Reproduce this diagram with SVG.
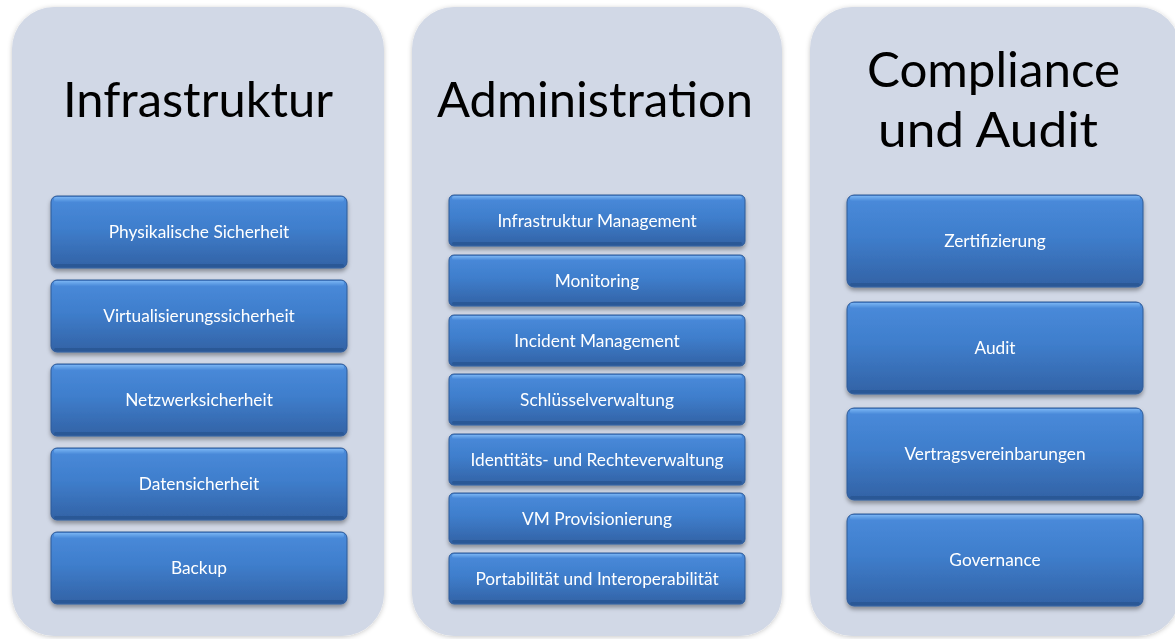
<svg xmlns="http://www.w3.org/2000/svg" width="1175" height="639" viewBox="0 0 1175 639">
  <style>
    .panel { fill: #D1D8E6; }
    .title { font-family: Lato, "Open Sans", "Liberation Sans", sans-serif; font-size: 49px; fill: #000000; }
    .label { font-family: Lato, "Open Sans", "Liberation Sans", sans-serif; font-size: 17.3px; fill: #FFFFFF; text-anchor: middle; }
    .box { fill: url(#boxFill); stroke: #2E5A97; stroke-width: 1; }
    .bevelTop { fill: url(#bevelTop); }
    .bevelBottom { fill: #2A5590; opacity: 0.75; }
  </style>
  <defs>
    <linearGradient id="boxFill" x1="0" y1="0" x2="0" y2="1">
      <stop offset="0" stop-color="#4A8BDB"/>
      <stop offset="0.45" stop-color="#3F7ECC"/>
      <stop offset="1" stop-color="#3262A5"/>
    </linearGradient>
    <linearGradient id="bevelTop" x1="0" y1="0" x2="0" y2="1">
      <stop offset="0" stop-color="#78B3F2"/>
      <stop offset="1" stop-color="#4B8BDA"/>
    </linearGradient>
    <filter id="panelShadow" x="-5%" y="-5%" width="110%" height="110%">
      <feGaussianBlur in="SourceAlpha" stdDeviation="2.5"/>
      <feOffset dx="0" dy="1" result="blur"/>
      <feFlood flood-color="#000000" flood-opacity="0.22"/>
      <feComposite in2="blur" operator="in"/>
      <feMerge><feMergeNode/><feMergeNode in="SourceGraphic"/></feMerge>
    </filter>
    <filter id="boxShadow" x="-5%" y="-20%" width="110%" height="150%">
      <feGaussianBlur in="SourceAlpha" stdDeviation="2"/>
      <feOffset dx="0" dy="3" result="blur"/>
      <feFlood flood-color="#000000" flood-opacity="0.35"/>
      <feComposite in2="blur" operator="in"/>
      <feMerge><feMergeNode/><feMergeNode in="SourceGraphic"/></feMerge>
    </filter>
  </defs>

  <rect width="1175" height="639" fill="#FFFFFF"/>

  <!-- Column 1: Infrastruktur -->
  <g id="infrastruktur">
    <rect class="panel" x="12" y="7" width="372" height="629" rx="42" filter="url(#panelShadow)"/>
    <text class="title" x="63" y="117" textLength="270" lengthAdjust="spacingAndGlyphs">Infrastruktur</text>

    <g id="physikalische-sicherheit" filter="url(#boxShadow)">
      <rect class="box" x="51" y="196" width="296" height="72" rx="6"/>
      <rect class="bevelTop" x="54" y="197" width="290" height="5" rx="2"/>
      <rect class="bevelBottom" x="54" y="264" width="290" height="3" rx="1.5"/>
      <text class="label" x="199" y="238">Physikalische Sicherheit</text>
    </g>
    <g id="virtualisierungssicherheit" filter="url(#boxShadow)">
      <rect class="box" x="51" y="280" width="296" height="72" rx="6"/>
      <rect class="bevelTop" x="54" y="281" width="290" height="5" rx="2"/>
      <rect class="bevelBottom" x="54" y="348" width="290" height="3" rx="1.5"/>
      <text class="label" x="199" y="322">Virtualisierungssicherheit</text>
    </g>
    <g id="netzwerksicherheit" filter="url(#boxShadow)">
      <rect class="box" x="51" y="364" width="296" height="72" rx="6"/>
      <rect class="bevelTop" x="54" y="365" width="290" height="5" rx="2"/>
      <rect class="bevelBottom" x="54" y="432" width="290" height="3" rx="1.5"/>
      <text class="label" x="199" y="406">Netzwerksicherheit</text>
    </g>
    <g id="datensicherheit" filter="url(#boxShadow)">
      <rect class="box" x="51" y="448" width="296" height="72" rx="6"/>
      <rect class="bevelTop" x="54" y="449" width="290" height="5" rx="2"/>
      <rect class="bevelBottom" x="54" y="516" width="290" height="3" rx="1.5"/>
      <text class="label" x="199" y="490">Datensicherheit</text>
    </g>
    <g id="backup" filter="url(#boxShadow)">
      <rect class="box" x="51" y="532" width="296" height="72" rx="6"/>
      <rect class="bevelTop" x="54" y="533" width="290" height="5" rx="2"/>
      <rect class="bevelBottom" x="54" y="600" width="290" height="3" rx="1.5"/>
      <text class="label" x="199" y="574">Backup</text>
    </g>
  </g>

  <!-- Column 2: Administration -->
  <g id="administration">
    <rect class="panel" x="412" y="7" width="370" height="629" rx="42" filter="url(#panelShadow)"/>
    <text class="title" x="437" y="117" textLength="316" lengthAdjust="spacingAndGlyphs">Administration</text>

    <g id="infrastruktur-management" filter="url(#boxShadow)">
      <rect class="box" x="449" y="195" width="296" height="51" rx="5"/>
      <rect class="bevelTop" x="452" y="196" width="290" height="4" rx="2"/>
      <rect class="bevelBottom" x="452" y="242" width="290" height="3" rx="1.5"/>
      <text class="label" x="597" y="227">Infrastruktur Management</text>
    </g>
    <g id="monitoring" filter="url(#boxShadow)">
      <rect class="box" x="449" y="255" width="296" height="51" rx="5"/>
      <rect class="bevelTop" x="452" y="256" width="290" height="4" rx="2"/>
      <rect class="bevelBottom" x="452" y="302" width="290" height="3" rx="1.5"/>
      <text class="label" x="597" y="287">Monitoring</text>
    </g>
    <g id="incident-management" filter="url(#boxShadow)">
      <rect class="box" x="449" y="315" width="296" height="51" rx="5"/>
      <rect class="bevelTop" x="452" y="316" width="290" height="4" rx="2"/>
      <rect class="bevelBottom" x="452" y="362" width="290" height="3" rx="1.5"/>
      <text class="label" x="597" y="347">Incident Management</text>
    </g>
    <g id="schluesselverwaltung" filter="url(#boxShadow)">
      <rect class="box" x="449" y="374" width="296" height="51" rx="5"/>
      <rect class="bevelTop" x="452" y="375" width="290" height="4" rx="2"/>
      <rect class="bevelBottom" x="452" y="421" width="290" height="3" rx="1.5"/>
      <text class="label" x="597" y="406">Schlüsselverwaltung</text>
    </g>
    <g id="identitaets-rechteverwaltung" filter="url(#boxShadow)">
      <rect class="box" x="449" y="434" width="296" height="51" rx="5"/>
      <rect class="bevelTop" x="452" y="435" width="290" height="4" rx="2"/>
      <rect class="bevelBottom" x="452" y="481" width="290" height="3" rx="1.5"/>
      <text class="label" x="597" y="466">Identitäts- und Rechteverwaltung</text>
    </g>
    <g id="vm-provisionierung" filter="url(#boxShadow)">
      <rect class="box" x="449" y="493" width="296" height="51" rx="5"/>
      <rect class="bevelTop" x="452" y="494" width="290" height="4" rx="2"/>
      <rect class="bevelBottom" x="452" y="540" width="290" height="3" rx="1.5"/>
      <text class="label" x="597" y="525">VM Provisionierung</text>
    </g>
    <g id="portabilitaet-interoperabilitaet" filter="url(#boxShadow)">
      <rect class="box" x="449" y="553" width="296" height="51" rx="5"/>
      <rect class="bevelTop" x="452" y="554" width="290" height="4" rx="2"/>
      <rect class="bevelBottom" x="452" y="600" width="290" height="3" rx="1.5"/>
      <text class="label" x="597" y="585">Portabilität und Interoperabilität</text>
    </g>
  </g>

  <!-- Column 3: Compliance und Audit -->
  <g id="compliance-audit">
    <rect class="panel" x="810" y="7" width="370" height="629" rx="42" filter="url(#panelShadow)"/>
    <text class="title" x="867" y="87" textLength="253" lengthAdjust="spacingAndGlyphs">Compliance</text>
    <text class="title" x="878" y="147" textLength="220" lengthAdjust="spacingAndGlyphs">und Audit</text>

    <g id="zertifizierung" filter="url(#boxShadow)">
      <rect class="box" x="847" y="195" width="296" height="92" rx="7"/>
      <rect class="bevelTop" x="850" y="196" width="290" height="5" rx="2"/>
      <rect class="bevelBottom" x="850" y="283" width="290" height="3" rx="1.5"/>
      <text class="label" x="995" y="247">Zertifizierung</text>
    </g>
    <g id="audit" filter="url(#boxShadow)">
      <rect class="box" x="847" y="302" width="296" height="92" rx="7"/>
      <rect class="bevelTop" x="850" y="303" width="290" height="5" rx="2"/>
      <rect class="bevelBottom" x="850" y="390" width="290" height="3" rx="1.5"/>
      <text class="label" x="995" y="354">Audit</text>
    </g>
    <g id="vertragsvereinbarungen" filter="url(#boxShadow)">
      <rect class="box" x="847" y="408" width="296" height="92" rx="7"/>
      <rect class="bevelTop" x="850" y="409" width="290" height="5" rx="2"/>
      <rect class="bevelBottom" x="850" y="496" width="290" height="3" rx="1.5"/>
      <text class="label" x="995" y="460">Vertragsvereinbarungen</text>
    </g>
    <g id="governance" filter="url(#boxShadow)">
      <rect class="box" x="847" y="514" width="296" height="92" rx="7"/>
      <rect class="bevelTop" x="850" y="515" width="290" height="5" rx="2"/>
      <rect class="bevelBottom" x="850" y="602" width="290" height="3" rx="1.5"/>
      <text class="label" x="995" y="566">Governance</text>
    </g>
  </g>
</svg>
